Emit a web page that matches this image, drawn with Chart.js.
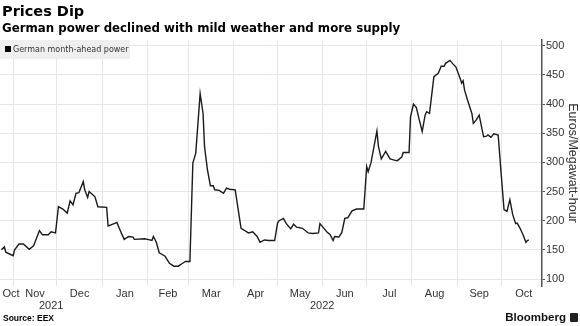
<!DOCTYPE html>
<html lang="en">
<head>
<meta charset="utf-8">
<title>Prices Dip</title>
<script src="https://cdn.jsdelivr.net/npm/chart.js@4.4.0/dist/chart.umd.min.js"></script>
<style>
  body { margin: 0; background: #fff; font-family: "Liberation Sans", Arial, sans-serif; }
  #wrap { position: relative; width: 580px; height: 326px; overflow: hidden; }
  #chart { position: absolute; left: 0; top: 0; }
  .title { position: absolute; left: 2px; top: 3px; font-family: "DejaVu Sans", sans-serif; font-weight: bold; font-size: 14.5px; line-height: 17px; color: #000; }
  .sub { position: absolute; left: 2px; top: 21px; font-family: "DejaVu Sans", sans-serif; font-weight: bold; font-size: 11.8px; line-height: 14px; color: #000; }
  .legend { position: absolute; left: 0; top: 40px; width: 130px; height: 19px; background: rgba(236,236,236,0.85);
            font-family: "DejaVu Sans", sans-serif; font-size: 8px; line-height: 19px; color: #333; }
  .legend i { display: inline-block; width: 6px; height: 6px; background: #000; margin: 0 2px 0 5px; }
  .src { position: absolute; left: 3px; top: 313px; font-weight: bold; font-size: 8.5px; color: #000; }
  .brand { position: absolute; right: 14px; top: 311px; font-weight: bold; font-size: 11.5px; color: #111; }
  .logo { position: absolute; right: 2px; top: 313px; width: 8px; height: 9px; background: #222; border-radius: 1px; }
</style>
</head>
<body>
<div id="wrap">
  <canvas id="chart" width="580" height="326"></canvas>
  <div class="title">Prices Dip</div>
  <div class="sub">German power declined with mild weather and more supply</div>
  <div class="legend"><i></i>German month-ahead power</div>
  <div class="src">Source: EEX</div>
  <div class="brand">Bloomberg</div>
  <div class="logo"></div>
</div>

<script>
// German month-ahead power, EUR/MWh
const dates = [
  '2021-10-24','2021-10-26','2021-10-27','2021-11-01','2021-11-02','2021-11-05','2021-11-08','2021-11-12',
  '2021-11-15','2021-11-19','2021-11-21','2021-11-25','2021-11-27','2021-11-30','2021-12-02','2021-12-05',
  '2021-12-08','2021-12-10','2021-12-12','2021-12-14','2021-12-16','2021-12-19','2021-12-20','2021-12-22',
  '2021-12-23','2021-12-27','2021-12-29','2022-01-04','2022-01-05','2022-01-07','2022-01-11','2022-01-13',
  '2022-01-16','2022-01-19','2022-01-22','2022-01-23','2022-01-30','2022-02-01','2022-02-04','2022-02-05',
  '2022-02-07','2022-02-09','2022-02-13','2022-02-16','2022-02-19','2022-02-22','2022-02-25','2022-02-27',
  '2022-03-02','2022-03-04','2022-03-06','2022-03-09','2022-03-11','2022-03-12','2022-03-14','2022-03-16',
  '2022-03-18','2022-03-19','2022-03-22','2022-03-25','2022-03-27','2022-03-29','2022-04-02','2022-04-06',
  '2022-04-08','2022-04-11','2022-04-14','2022-04-17','2022-04-19','2022-04-22','2022-04-25','2022-04-29',
  '2022-05-01','2022-05-02','2022-05-05','2022-05-07','2022-05-10','2022-05-12','2022-05-14','2022-05-18',
  '2022-05-22','2022-05-25','2022-05-29','2022-05-30','2022-06-02','2022-06-04','2022-06-06','2022-06-08',
  '2022-06-09','2022-06-12','2022-06-14','2022-06-16','2022-06-18','2022-06-21','2022-06-24','2022-06-29',
  '2022-07-01','2022-07-02','2022-07-04','2022-07-08','2022-07-09','2022-07-11','2022-07-14','2022-07-17',
  '2022-07-20','2022-07-22','2022-07-25','2022-07-26','2022-07-30','2022-07-31','2022-08-02','2022-08-04',
  '2022-08-06','2022-08-08','2022-08-10','2022-08-11','2022-08-13','2022-08-16','2022-08-19','2022-08-21',
  '2022-08-23','2022-08-24','2022-08-27','2022-08-29','2022-08-31','2022-09-03','2022-09-04','2022-09-05',
  '2022-09-06','2022-09-08','2022-09-11','2022-09-12','2022-09-14','2022-09-16','2022-09-19','2022-09-21',
  '2022-09-22','2022-09-24','2022-09-26','2022-09-29','2022-10-01','2022-10-03','2022-10-05','2022-10-07',
  '2022-10-09','2022-10-11','2022-10-12','2022-10-14','2022-10-16','2022-10-18','2022-10-19','2022-10-20'
];
const prices = [
  150,155,146,140,150,160,160,151,
  157,183,176,176,181,179,224,220,
  213,234,227,247,248,267,253,240,
  250,241,224,223,191,193,197,185,
  168,173,172,168,169,168,166,173,
  163,145,139,127,122,122,127,130,
  130,299,316,418,384,327,287,260,
  260,253,252,247,256,254,253,187,
  184,179,181,173,163,167,166,166,
  196,200,204,195,186,194,189,187,
  179,178,179,195,186,180,176,166,
  173,172,180,204,205,217,220,220,
  293,284,300,354,328,306,319,306,
  304,303,309,317,317,378,400,394,
  373,353,381,387,384,447,453,465,
  465,470,475,469,464,444,436,440,
  424,407,384,367,373,381,344,345,
  347,343,349,347,282,219,216,236,
  210,195,196,187,176,163,166,167
];

// axis setup
const axisStart = '2021-10-23';
const axisEnd = '2022-10-29';
const monthStarts = ['2021-11-01','2021-12-01','2022-01-01','2022-02-01','2022-03-01','2022-04-01',
                     '2022-05-01','2022-06-01','2022-07-01','2022-08-01','2022-09-01','2022-10-01'];
const monthNames = ['Oct','Nov','Dec','Jan','Feb','Mar','Apr','May','Jun','Jul','Aug','Sep','Oct'];
const yearNames = ['2021','2022'];
const yearStart = '2022-01-01';
const yTicks = [100,150,200,250,300,350,400,450,500];
const yMin = 88, yMax = 510;

function day(s) { // days since 1 Oct 2021
  const p = s.split('-');
  return (Date.UTC(+p[0], p[1]-1, +p[2]) - Date.UTC(2021,9,1)) / 864e5;
}
const xMin = day(axisStart), xMax = day(axisEnd);
const gridDays = monthStarts.map(day);
// month labels sit in the middle of each month, pulled inside the axis at the ends
const edges = [day('2021-10-01')].concat(gridDays, [day('2022-11-01')]);
const monthPos = monthNames.map((m,i) => Math.min(Math.max((edges[i]+edges[i+1])/2, xMin+7.5), xMax-7.5));
const yearPos = [(xMin+day(yearStart))/2, (day(yearStart)+xMax)/2];

const points = dates.map((d,i) => ({x: day(d), y: prices[i]}));

const tickFont = {family: '"Liberation Sans", Arial, sans-serif', size: 11};
const gridCol = '#e6e6e6';

new Chart(document.getElementById('chart'), {
  type: 'line',
  data: {
    datasets: [{
      data: points,
      borderColor: '#1a1a1a',
      borderWidth: 1.4,
      pointRadius: 0,
      tension: 0,
      fill: false
    }]
  },
  options: {
    responsive: false,
    animation: false,
    devicePixelRatio: 1,
    layout: {padding: {top: 40, bottom: 14, left: 0, right: 0}},
    plugins: {legend: {display: false}, tooltip: {enabled: false}},
    scales: {
      x: {
        type: 'linear', position: 'bottom', min: xMin, max: xMax,
        afterBuildTicks: s => { s.ticks = gridDays.map(v => ({value: v})); },
        afterFit: s => { s.height = 0; },
        grid: {color: gridCol, drawTicks: false},
        border: {display: false},
        ticks: {display: false}
      },
      xm: {
        type: 'linear', position: 'bottom', min: xMin, max: xMax,
        afterBuildTicks: s => { s.ticks = monthPos.map(v => ({value: v})); },
        afterFit: s => { s.height = 13; },
        grid: {display: false, drawTicks: false},
        border: {display: false},
        ticks: {autoSkip: false, maxRotation: 0, padding: 1, font: tickFont, color: '#333',
                callback: (v, i) => monthNames[i]}
      },
      xy: {
        type: 'linear', position: 'bottom', min: xMin, max: xMax,
        afterBuildTicks: s => { s.ticks = yearPos.map(v => ({value: v})); },
        afterFit: s => { s.height = 13; },
        grid: {display: false, drawTicks: false},
        border: {display: false},
        ticks: {autoSkip: false, maxRotation: 0, padding: 0, font: tickFont, color: '#333',
                callback: (v, i) => yearNames[i]}
      },
      y: {
        position: 'right', min: yMin, max: yMax,
        afterBuildTicks: s => { s.ticks = yTicks.map(v => ({value: v})); },
        afterFit: s => { s.width = 38; },
        grid: {color: gridCol, tickColor: '#555', tickLength: 3},
        border: {display: true, color: '#555', width: 1.5},
        ticks: {padding: 1, font: tickFont, color: '#333'},
        title: {display: true, text: 'Euros/Megawatt-hour', color: '#333', padding: 0,
                font: {family: '"Liberation Sans", Arial, sans-serif', size: 12.5}}
      }
    }
  }
});
</script>
</body>
</html>
